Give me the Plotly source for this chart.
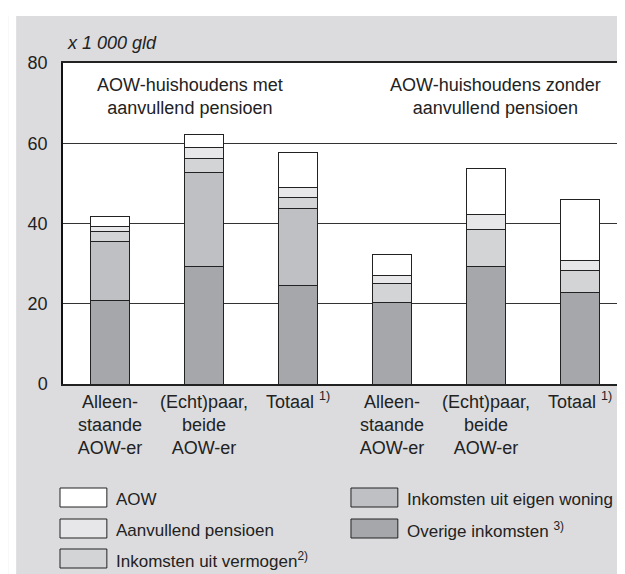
import plotly.graph_objs as go

# categories (two groups of three)
categories = ['Alleen-<br>staande<br>AOW-er', '(Echt)paar,<br>beide<br>AOW-er', 'Totaal <sup>1)</sup>',
              'Alleen-<br>staande<br>AOW-er', '(Echt)paar,<br>beide<br>AOW-er', 'Totaal <sup>1)</sup>']

# values x 1 000 gld, bottom to top of the stack
overige = [20.8, 29.3, 24.6, 20.3, 29.4, 22.7]
eigen_woning = [14.8, 23.5, 19.1, None, None, None]
vermogen = [2.4, 3.3, 2.8, 4.7, 9.1, 5.7]
aanvullend = [1.3, 2.8, 2.5, 2.0, 3.8, 2.4]
aow = [2.5, 3.4, 8.6, 5.2, 11.4, 15.2]

names = ['Overige inkomsten <sup>3)</sup>', 'Inkomsten uit eigen woning',
         'Inkomsten uit vermogen<sup>2)</sup>', 'Aanvullend pensioen', 'AOW']
colors = ['#a6a7aa', '#bfc0c3', '#d3d4d6', '#e7e7e9', '#ffffff']
series = [overige, eigen_woning, vermogen, aanvullend, aow]

font = 'Liberation Sans, Arial, sans-serif'
xpos = list(range(len(categories)))

fig = go.Figure()
for vals, name, col in zip(series, names, colors):
    fig.add_trace(go.Bar(x=xpos, y=vals, name=name, width=0.41,
                         marker=dict(color=col, line=dict(color='#222', width=1)),
                         showlegend=False))

# plot area in pixels: x 55..621, y 55..376
W, H = 625, 574
L, R, T, B = 55, 4, 55, 198
pw, ph = W - L - R, H - T - B


def px(x):
    return (x - L) / pw


def py(y):
    return (H - B - y) / ph


shapes = [
    # white strips at the left and top edge of the page
    dict(type='rect', xref='paper', yref='paper', x0=px(0), x1=px(8), y0=py(H), y1=py(0),
         fillcolor='white', line=dict(width=0), layer='below'),
    dict(type='rect', xref='paper', yref='paper', x0=px(0), x1=px(W), y0=py(8), y1=py(0),
         fillcolor='white', line=dict(width=0), layer='below'),
]

annotations = [
    dict(text='<i>x 1 000 gld</i>', xref='paper', yref='paper', x=px(57), y=py(35),
         xanchor='left', yanchor='middle', showarrow=False, font=dict(size=18)),
    dict(text='AOW-huishoudens met<br>aanvullend pensioen', xref='paper', yref='paper',
         x=px(182), y=py(88), xanchor='center', yanchor='middle', showarrow=False,
         font=dict(size=18)),
    dict(text='AOW-huishoudens zonder<br>aanvullend pensioen', xref='paper', yref='paper',
         x=px(489), y=py(88), xanchor='center', yanchor='middle', showarrow=False,
         font=dict(size=18)),
]

# legend drawn by hand: big boxes like the original
legend_pos = [(52, 480), (52, 511), (52, 541), (344, 480), (344, 511)]
legend_order = [4, 3, 2, 1, 0]
for (lx, ly), i in zip(legend_pos, legend_order):
    shapes.append(dict(type='rect', xref='paper', yref='paper', x0=px(lx), x1=px(lx + 47),
                       y0=py(ly + 19), y1=py(ly), fillcolor=colors[i],
                       line=dict(color='#222', width=1)))
    annotations.append(dict(text=names[i], xref='paper', yref='paper', x=px(lx + 54),
                            y=py(ly + 11), xanchor='left', yanchor='middle', showarrow=False,
                            font=dict(size=17)))

fig['layout'].update(width=W, height=H,
                     margin={'l': L, 'r': R, 't': T, 'b': B},
                     paper_bgcolor='#dcdcde',
                     plot_bgcolor='white',
                     barmode='stack',
                     showlegend=False,
                     font=dict(family=font, size=18, color='#222'),
                     shapes=shapes,
                     annotations=annotations)
fig.update_yaxes(range=[0, 80], tickvals=[0, 20, 40, 60, 80], showgrid=True,
                 gridcolor='#333', gridwidth=1, zeroline=False, showline=True,
                 mirror=True, linecolor='#111', linewidth=1.5, ticks='',
                 ticklabelstandoff=10, tickfont=dict(size=18))
fig.update_xaxes(range=[-0.5, 5.5], tickvals=xpos, ticktext=categories,
                 showgrid=False, zeroline=False, showline=True, mirror=True,
                 linecolor='#222', linewidth=2, ticks='', tickfont=dict(size=18))

fig.write_html('out.html')
